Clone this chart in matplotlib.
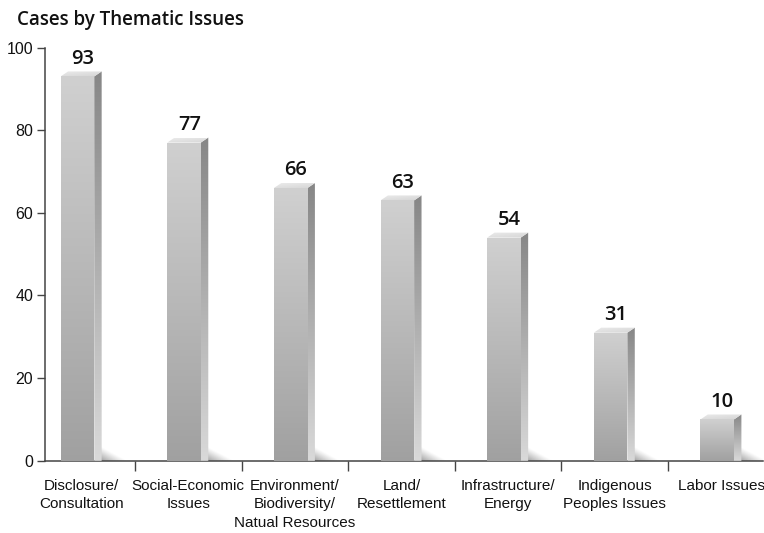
import numpy as np
import matplotlib
matplotlib.use('Agg')
import matplotlib.pyplot as plt
from matplotlib.patches import Polygon
from matplotlib import font_manager

categories = ["Disclosure/\nConsultation", "Social-Economic\nIssues",
              "Environment/\nBiodiversity/\nNatual Resources", "Land/\nResettlement",
              "Infrastructure/\nEnergy", "Indigenous\nPeoples Issues", "Labor Issues"]
values = [93, 77, 66, 63, 54, 31, 10]
yticks = [0, 20, 40, 60, 80, 100]
title = "Cases by Thematic Issues"

fonts = font_manager.fontManager.ttflist
names = {f.name for f in fonts}
narrow = 'Liberation Sans Narrow' if 'Liberation Sans Narrow' in names else 'Liberation Sans'
nsize = 12 if narrow == 'Liberation Sans Narrow' else 11

# pick a family with a medium/semibold weight for the heading
head_family, head_weight = 'Noto Sans', 'bold'
for fam in ['Open Sans', 'Noto Sans', 'Inter', 'Roboto', 'Lato']:
    ws = set()
    for f in fonts:
        if f.name == fam:
            w = f.weight
            if isinstance(w, str):
                w = {'normal': 400, 'regular': 400, 'medium': 500, 'semibold': 600,
                     'demibold': 600, 'bold': 700}.get(w.lower(), 400)
            ws.add(w)
    if 600 in ws:
        head_family, head_weight = fam, 600
        break
    if 500 in ws:
        head_family, head_weight = fam, 500
        break

W, H = 764, 533
fig = plt.figure(figsize=(W / 100, H / 100), dpi=100)
ax_left, ax_right = 45, 763
ax_top, ax_bot = 47.5, 460.8
ax = fig.add_axes([ax_left / W, (H - ax_bot) / H, (ax_right - ax_left) / W, (ax_bot - ax_top) / H])

xmin, xmax = -0.344, 6.39
ymin, ymax = 0, 100
pxx = (ax_right - ax_left) / (xmax - xmin)   # px per x unit
pxy = (ax_bot - ax_top) / (ymax - ymin)      # px per y unit

fl, fr = -0.197, 0.118
dx = 7.4 / pxx
dy = 5.0 / pxy


def grad(ax, poly, extent, img, z):
    p = Polygon(poly, closed=True, facecolor='none', edgecolor='none')
    ax.add_patch(p)
    im = ax.imshow(img, extent=extent, origin='lower', aspect='auto',
                   interpolation='bilinear', zorder=z)
    im.set_clip_path(p)


N = 64
t = np.linspace(0, 1, N)
for i, v in enumerate(values):
    x0, x1 = i + fl, i + fr
    # shadow
    sw, sh = 26 / pxx, 16 / pxy
    xx, yy = np.meshgrid(np.linspace(0, 1, N), np.linspace(0, 1, N))
    d = np.clip(1 - (xx + yy * 1.1), 0, 1)
    a = d ** 1.1 * 0.65
    img = np.zeros((N, N, 4))
    img[..., :3] = 0.42
    img[..., 3] = a
    grad(ax, [(x1 + dx - 1 / pxx, 0), (x1 + dx + sw, 0), (x1 + dx - 1 / pxx, sh)],
         [x1 + dx - 1 / pxx, x1 + dx + sw, 0, sh], img, 2)
    # front face
    g = 0.63 + (0.815 - 0.63) * t
    img = np.repeat(g[:, None], 4, axis=1)
    img = np.stack([img, img, img], axis=-1)
    grad(ax, [(x0, 0), (x1, 0), (x1, v), (x0, v)], [x0, x1, 0, v], img, 3)
    # side face
    g = 0.85 - (0.85 - 0.53) * t
    img = np.repeat(g[:, None], 4, axis=1)
    img = np.stack([img, img, img], axis=-1)
    grad(ax, [(x1, 0), (x1 + dx, 0), (x1 + dx, v + dy), (x1, v)],
         [x1, x1 + dx, 0, v + dy], img, 3)
    # top face
    xx, yy = np.meshgrid(np.linspace(0, 1, 16), np.linspace(0, 1, 16))
    g = 0.84 + 0.08 * (yy * 0.6 + (1 - xx) * 0.4)
    img = np.stack([g, g, g], axis=-1)
    grad(ax, [(x0, v), (x1, v), (x1 + dx, v + dy), (x0 + dx, v + dy)],
         [x0, x1 + dx, v, v + dy], img, 4)
    # value label
    ax.text(i + 0.01, v + dy + 1.9, str(v), ha='center', va='baseline',
            fontsize=14.5, fontweight=head_weight, family=head_family, color='#111111', zorder=5)

ax.set_xlim(xmin, xmax)
ax.set_ylim(ymin, ymax)

for s in ['top', 'right']:
    ax.spines[s].set_visible(False)
for s in ['left', 'bottom']:
    ax.spines[s].set_color('#444444')
    ax.spines[s].set_linewidth(1.1)

ax.set_yticks(yticks)
ax.set_yticklabels([str(y) for y in yticks], family=narrow, fontsize=nsize + 0.5, color='#111111')
ax.tick_params(axis='y', direction='out', length=6, width=1, color='#444444', pad=2.5)

ax.set_xticks(range(len(categories)))
ax.set_xticklabels(categories, family=narrow, fontsize=nsize, color='#111111', linespacing=1.4)
ax.tick_params(axis='x', which='major', length=0, pad=13)
ax.set_xticks([i + 0.5 for i in range(len(categories) - 1)], minor=True)
ax.tick_params(axis='x', which='minor', direction='out', length=7, width=1, color='#444444')

fig.text(17 / W, 1 - 24.5 / H, title, ha='left', va='baseline', fontsize=13.5,
         fontweight=head_weight, family=head_family, color='#111111')

fig.savefig('out.png', dpi=100)
